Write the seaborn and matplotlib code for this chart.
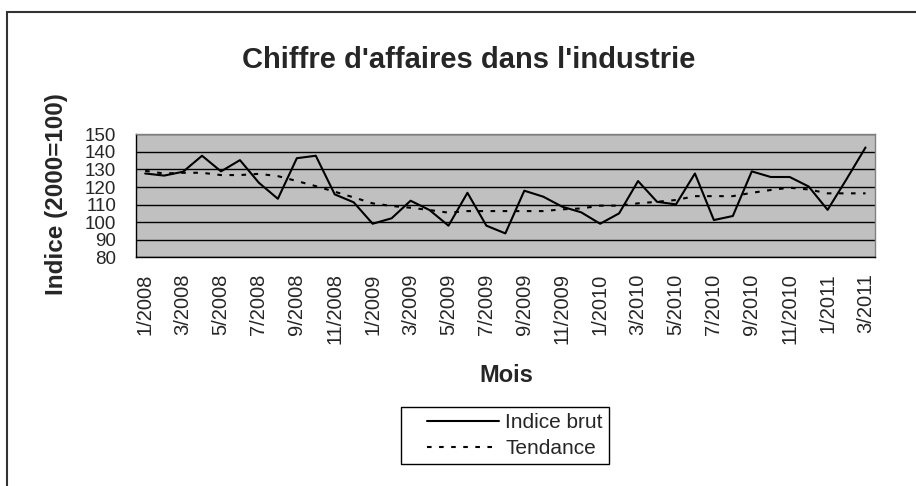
import numpy as np
import pandas as pd
import matplotlib
matplotlib.use("Agg")
import matplotlib.pyplot as plt
from matplotlib.patches import Rectangle
from matplotlib.lines import Line2D
from matplotlib.legend_handler import HandlerLine2D
import seaborn as sns

# Mois (1/2008 -> 3/2011)
mois = ["1/2008", "2/2008", "3/2008", "4/2008", "5/2008", "6/2008", "7/2008",
        "8/2008", "9/2008", "10/2008", "11/2008", "12/2008",
        "1/2009", "2/2009", "3/2009", "4/2009", "5/2009", "6/2009", "7/2009",
        "8/2009", "9/2009", "10/2009", "11/2009", "12/2009",
        "1/2010", "2/2010", "3/2010", "4/2010", "5/2010", "6/2010", "7/2010",
        "8/2010", "9/2010", "10/2010", "11/2010", "12/2010",
        "1/2011", "2/2011", "3/2011"]

indice_brut = [127.7, 126.5, 128.7, 137.8, 128.9, 135.3, 122.4, 113.3, 136.4, 137.8,
               115.8, 111.3, 99.1, 102.2, 112.2, 106.9, 98.0, 116.7, 98.0, 93.6,
               117.9, 114.5, 108.8, 105.6, 99.1, 105.0, 123.4, 111.6, 110.1, 127.7,
               101.2, 103.5, 128.9, 125.7, 125.7, 120.3, 107.0, 124.5, 142.5]

tendance = [129.2, 127.7, 128.1, 128.1, 126.8, 126.8, 127.5, 126.2, 123.4, 120.5,
            117.3, 114.1, 110.7, 109.2, 108.2, 106.9, 105.4, 106.3, 106.3, 106.3,
            106.3, 106.3, 107.3, 107.8, 109.4, 109.4, 110.7, 111.6, 112.6, 114.8,
            114.8, 114.8, 116.7, 118.3, 119.6, 118.6, 116.4, 116.4, 116.4]

n = len(mois)
df = pd.DataFrame({
    "pos": list(range(n)) * 2,
    "valeur": indice_brut + tendance,
    "serie": ["Indice brut"] * n + ["Tendance"] * n,
})

sns.set_style("white")
plt.rcParams['font.family'] = ['Liberation Sans', 'DejaVu Sans']

W, H = 916, 486
fig = plt.figure(figsize=(W / 100, H / 100), dpi=100)
ax = fig.add_axes([135.7 / W, 1 - 257.3 / H, (875 - 135.7) / W, (257.3 - 134.3) / H])

sns.lineplot(data=df, x="pos", y="valeur", style="serie",
             dashes={"Indice brut": "", "Tendance": (2.2, 3.6)},
             color="black", lw=1.5, ax=ax)

ax.set_facecolor("#c0c0c0")
ax.set_xlim(-0.5, n - 0.5)
ax.set_ylim(80, 150)
ax.set_yticks(range(80, 151, 10))
ax.yaxis.grid(True, color="black", lw=1)
ax.set_axisbelow(True)
for s in ["left", "bottom"]:
    ax.spines[s].set_color("black")
    ax.spines[s].set_linewidth(1)
for s in ["top", "right"]:
    ax.spines[s].set_color("#808080")
    ax.spines[s].set_linewidth(1)

# ticks at category boundaries, labels at every other month
ax.set_xticks(np.arange(-0.5, n, 1))
ax.set_xticklabels([])
ax.set_xticks(range(0, n, 2), labels=mois[::2], minor=True)
ax.tick_params(axis="x", which="major", length=4.5, width=1, color="black", direction="out")
ax.tick_params(axis="x", which="minor", length=0, pad=11.5, labelsize=14.5, labelrotation=90)
ax.tick_params(axis="y", length=3, width=1, color="black", direction="out", pad=11, labelsize=13.5)
ax.set_xlabel("")
ax.set_ylabel("")

fig.text(469 / W, 1 - 68 / H, "Chiffre d'affaires dans l'industrie",
         ha="center", va="baseline", fontsize=21, fontweight="bold")
fig.text(57 / W, 1 - 194.5 / H, "Indice (2000=100)", rotation=90,
         ha="center", va="center", fontsize=17.5, fontweight="bold")
fig.text(506 / W, 1 - 381.5 / H, "Mois", ha="center", va="baseline",
         fontsize=17, fontweight="bold")

handles, labels = ax.get_legend_handles_labels()
leg = ax.legend(handles, labels, loc="upper center",
                bbox_to_anchor=(505 / W, 1 - 406.7 / H), bbox_transform=fig.transFigure,
                fontsize=15, frameon=True, fancybox=False, framealpha=1,
                edgecolor="black", handlelength=4.4, handletextpad=0.3,
                borderpad=0.3, labelspacing=0.33, borderaxespad=0,
                handler_map={Line2D: HandlerLine2D(xpad=0.95)})
leg.get_frame().set_linewidth(1)
for line in leg.get_lines():
    line.set_color("black")

fig.add_artist(Rectangle((7 / W, -0.1), 1.2, 1 - 12 / H + 0.1, transform=fig.transFigure,
                         fill=False, lw=1.5, ec="#333333", clip_on=False))

fig.savefig("out.png", dpi=100)
